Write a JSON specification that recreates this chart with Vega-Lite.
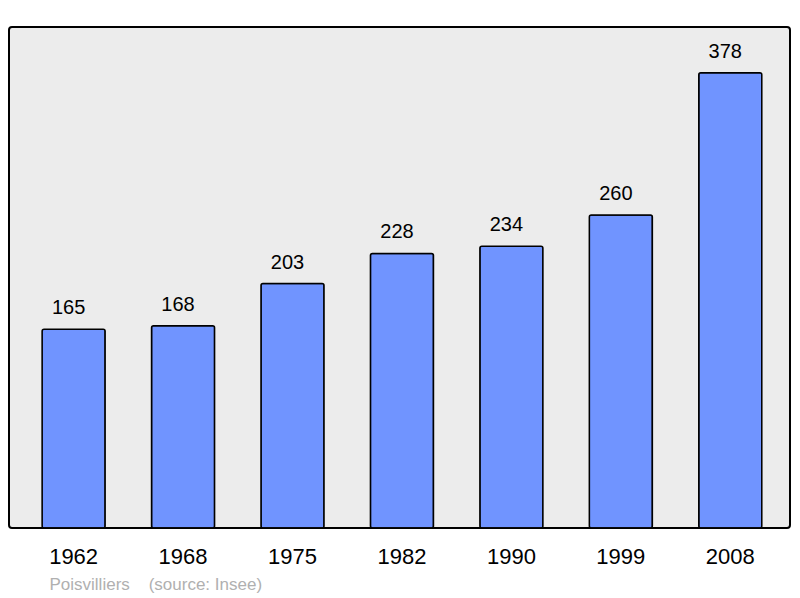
{
  "$schema": "https://vega.github.io/schema/vega-lite/v6.json",
  "width": 781,
  "height": 501,
  "autosize": {"type": "none"},
  "padding": {"left": 9, "top": 27, "right": 10, "bottom": 70},
  "background": "white",
  "config": {
    "view": {"fill": "#ececec", "stroke": "#000000", "strokeWidth": 2, "cornerRadius": 3},
    "font": "Liberation Sans"
  },
  "data": {
    "values": [
      {"year": "1962", "pop": 165},
      {"year": "1968", "pop": 168},
      {"year": "1975", "pop": 203},
      {"year": "1982", "pop": 228},
      {"year": "1990", "pop": 234},
      {"year": "1999", "pop": 260},
      {"year": "2008", "pop": 378}
    ]
  },
  "encoding": {
    "x": {
      "field": "year",
      "type": "nominal",
      "sort": null,
      "scale": {"paddingInner": 0.424, "paddingOuter": 0.28, "align": 0.54, "round": false},
      "axis": {
        "title": "Poisvilliers\u00a0\u00a0\u00a0\u00a0(source: Insee)",
        "titleFont": "Liberation Sans",
        "titleFontSize": 17,
        "titleFontWeight": "normal",
        "titleColor": "#b0b0b0",
        "titleAnchor": "start",
        "titleAlign": "left",
        "titleX": 40,
        "titleY": 56,
        "titleBaseline": "middle",
        "labelAngle": 0,
        "labelFontSize": 22,
        "labelColor": "#000000",
        "labelPadding": 28.5,
        "labelBaseline": "middle",
        "domain": false,
        "ticks": false,
        "grid": false
      }
    },
    "y": {
      "field": "pop",
      "type": "quantitative",
      "scale": {"domain": [0, 416], "nice": false, "zero": true},
      "axis": null
    }
  },
  "layer": [
    {
      "mark": {"type": "bar", "fill": "#7094ff", "stroke": "#000000", "strokeWidth": 1.5, "cornerRadius": 2}
    },
    {
      "mark": {"type": "text", "fontSize": 20, "baseline": "alphabetic", "dy": -15, "dx": -5, "color": "#000000"},
      "encoding": {"text": {"field": "pop", "type": "quantitative"}}
    }
  ]
}
